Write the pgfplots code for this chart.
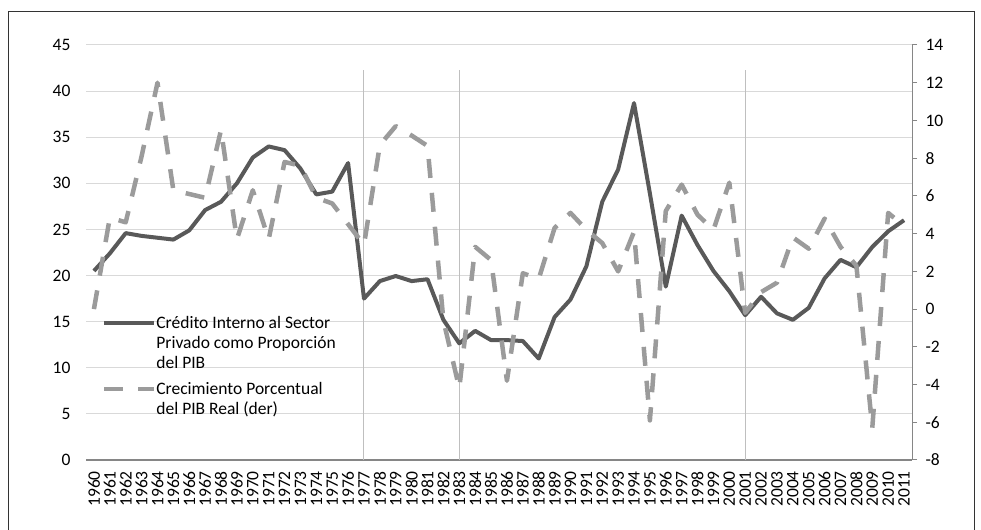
\documentclass[border=0pt]{standalone}
\usepackage{fontspec}
\setmainfont{Carlito}
\usepackage{pgfplots}
\usepackage{pgfplotstable}
\pgfplotsset{compat=1.18}
\definecolor{creditc}{HTML}{595959}
\definecolor{growthc}{HTML}{9B9B9B}
\definecolor{gridc}{HTML}{D9D9D9}
\definecolor{axisc}{HTML}{868686}
\definecolor{vlinec}{HTML}{BFBFBF}
\newcommand{\fs}{\fontsize{17.5bp}{20.5bp}\selectfont}

\pgfplotstableread{
x C G
1960 20.5 0.0
1961 22.4 4.85
1962 24.6 4.6
1963 24.3 8.1
1964 24.1 12.0
1965 23.9 6.3
1966 24.9 6.1
1967 27.1 5.9
1968 28.0 9.5
1969 30.0 3.7
1970 32.8 6.3
1971 34.0 3.7
1972 33.6 7.8
1973 31.6 7.6
1974 28.8 5.9
1975 29.1 5.6
1976 32.2 4.5
1977 17.5 3.4
1978 19.4 8.7
1979 19.95 9.7
1980 19.4 9.2
1981 19.6 8.65
1982 15.2 -0.6
1983 12.65 -4.2
1984 14.0 3.3
1985 13.0 2.6
1986 13.0 -3.8
1987 12.9 1.9
1988 11.0 1.6
1989 15.5 4.3
1990 17.4 5.1
1991 21.0 4.2
1992 28.0 3.5
1993 31.5 2.0
1994 38.7 4.1
1995 28.9 -5.9
1996 18.8 5.2
1997 26.5 6.6
1998 23.3 5.0
1999 20.5 4.2
2000 18.3 6.7
2001 15.7 -0.2
2002 17.7 0.9
2003 15.9 1.4
2004 15.2 3.8
2005 16.5 3.2
2006 19.7 4.8
2007 21.7 3.3
2008 20.9 2.3
2009 23.1 -6.3
2010 24.8 5.1
2011 26.0 4.4
}\data

\begin{document}
\begin{tikzpicture}
\useasboundingbox (0,0) rectangle (981bp,530bp);
\draw[black!80, line width=1bp] (8bp,-5bp) -- (8bp,518bp) -- (974bp,518bp) -- (974bp,-5bp);
\begin{axis}[
  at={(86bp,70bp)}, anchor=south west,
  scale only axis, width=826bp, height=415bp,
  xmin=1959.5, xmax=2011.5, ymin=0, ymax=45,
  xtick=data, ytick={0,5,...,45},
  ymajorgrids, grid style={gridc, line width=1bp},
  axis x line*=bottom, axis y line*=left,
  y axis line style={draw=none},
  x axis line style={axisc, line width=1.3bp},
  major tick length=0pt, tick style={draw=none},
  /pgf/number format/assume math mode=true,
  /pgf/number format/1000 sep={},
  tick label style={font=\fs, text=black},
  xticklabel style={rotate=90, anchor=east, inner xsep=11bp},
  yticklabel style={xshift=-12bp},
  legend cell align=left,
  legend style={at={(0.019,0.352)}, anchor=north west, draw=none, fill=none,
    inner sep=0pt, row sep=0pt, column sep=0pt, font=\fs,
    cells={anchor=base west},
    nodes={inner sep=0pt, text=black, text height=14.2bp, text depth=6.0bp}},
  legend image code/.code={\draw[#1] (0bp,5.5bp) -- (50bp,5.5bp);},
]
\addplot[vlinec, line width=1bp, forget plot] coordinates {(1977,0) (1977,42.3)};
\addplot[vlinec, line width=1bp, forget plot] coordinates {(1983,0) (1983,42.3)};
\addplot[vlinec, line width=1bp, forget plot] coordinates {(2001,0) (2001,42.3)};
\addplot[creditc, line width=4bp, line join=round] table[x=x, y=C] {\data};
\addlegendentry{Crédito Interno al Sector}
\addlegendimage{empty legend}
\addlegendentry{Privado como Proporción}
\addlegendimage{empty legend}
\addlegendentry[text depth=11.5bp]{del PIB}
\addlegendimage{growthc, line width=4.5bp, dash pattern=on 19bp off 15bp}
\addlegendentry{Crecimiento Porcentual}
\addlegendimage{empty legend}
\addlegendentry{del PIB Real (der)}
\end{axis}
\begin{axis}[
  at={(86bp,70bp)}, anchor=south west,
  scale only axis, width=826bp, height=415bp,
  xmin=1959.5, xmax=2011.5, ymin=-8, ymax=14,
  ytick={-8,-6,...,14},
  axis y line*=right, axis x line=none,
  y axis line style={axisc, line width=1bp},
  ytick style={axisc, line width=1bp},
  tick align=outside, major tick length=5bp,
  /pgf/number format/assume math mode=true,
  tick label style={font=\fs, text=black},
  yticklabel style={xshift=5bp},
]
\addplot[growthc, line width=4.5bp, line join=round, dash pattern=on 19bp off 15bp] table[x=x, y=G] {\data};
\end{axis}
\end{tikzpicture}
\end{document}
